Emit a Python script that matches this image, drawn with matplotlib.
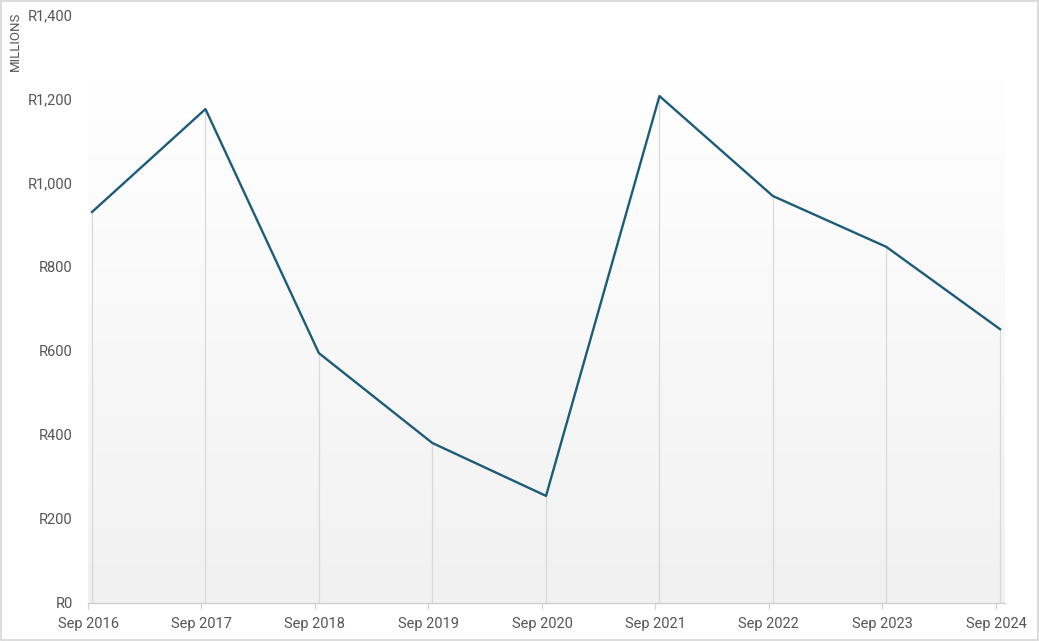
import datetime as dt

import numpy as np
import matplotlib
matplotlib.use('Agg')
import matplotlib.pyplot as plt
from matplotlib.ticker import FuncFormatter

plt.rcParams['font.family'] = ['Roboto', 'DejaVu Sans']

# data (millions of rand), one value per September
years = [2016, 2017, 2018, 2019, 2020, 2021, 2022, 2023, 2024]
values = [931, 1176, 595, 381, 255, 1207, 969, 848, 652]
tick_labels = ['Sep %d' % y for y in years]

dates = [dt.date(y, 9, 14) for y in years]
tick_dates = [dt.date(y, 9, 1) for y in years]

line_color = '#1d5c79'
text_color = '#555555'
grid_color = '#d9d9d9'

fig = plt.figure(figsize=(10.39, 6.41), dpi=100)
ax = fig.add_axes([88 / 1039, 38 / 641, (1005 - 88) / 1039, (603 - 15) / 641])

# background gradient, white at top to light grey at bottom
grad = np.linspace(1.0, 0.0, 256).reshape(-1, 1)
grad = np.clip(grad * 1.12, 0, 1)
ax.imshow(grad, extent=[0, 1, 0, 1], transform=ax.transAxes, aspect='auto',
          cmap=matplotlib.colors.LinearSegmentedColormap.from_list('g', ['#f1f1f1', '#ffffff']),
          zorder=0, interpolation='bicubic')

# drop lines from each point
ax.vlines(dates, 0, values, color=grid_color, linewidth=0.9, zorder=1)
ax.plot(dates, values, color=line_color, linewidth=1.7, zorder=3)

ax.set_xlim(dt.date(2016, 9, 1), dt.date(2024, 9, 30))
ax.set_ylim(0, 1400)

ax.set_xticks(tick_dates)
ax.set_xticklabels(tick_labels)
ax.set_yticks(range(0, 1401, 200))
ax.yaxis.set_major_formatter(FuncFormatter(lambda v, p: 'R{:,.0f}'.format(v)))

for s in ['top', 'right', 'left']:
    ax.spines[s].set_visible(False)
ax.spines['bottom'].set_color('#d0d0d0')
ax.spines['bottom'].set_linewidth(1.0)

ax.tick_params(axis='x', colors='#d0d0d0', length=4, width=0.9, pad=6,
               labelcolor=text_color, labelsize=10.5)
ax.tick_params(axis='y', length=0, pad=11, labelcolor=text_color, labelsize=10.5)

fig.text(15 / 1039, 1 - 41 / 641, 'MILLIONS', rotation=90, ha='center', va='center',
         fontsize=9.5, color=text_color)

# thin frame around the figure
fig.patches.append(plt.Rectangle((0.0005, 0.0008), 0.999, 0.998, transform=fig.transFigure,
                                 fill=False, edgecolor='#d6d6d6', linewidth=1.2))

fig.savefig('out.png', dpi=100)
